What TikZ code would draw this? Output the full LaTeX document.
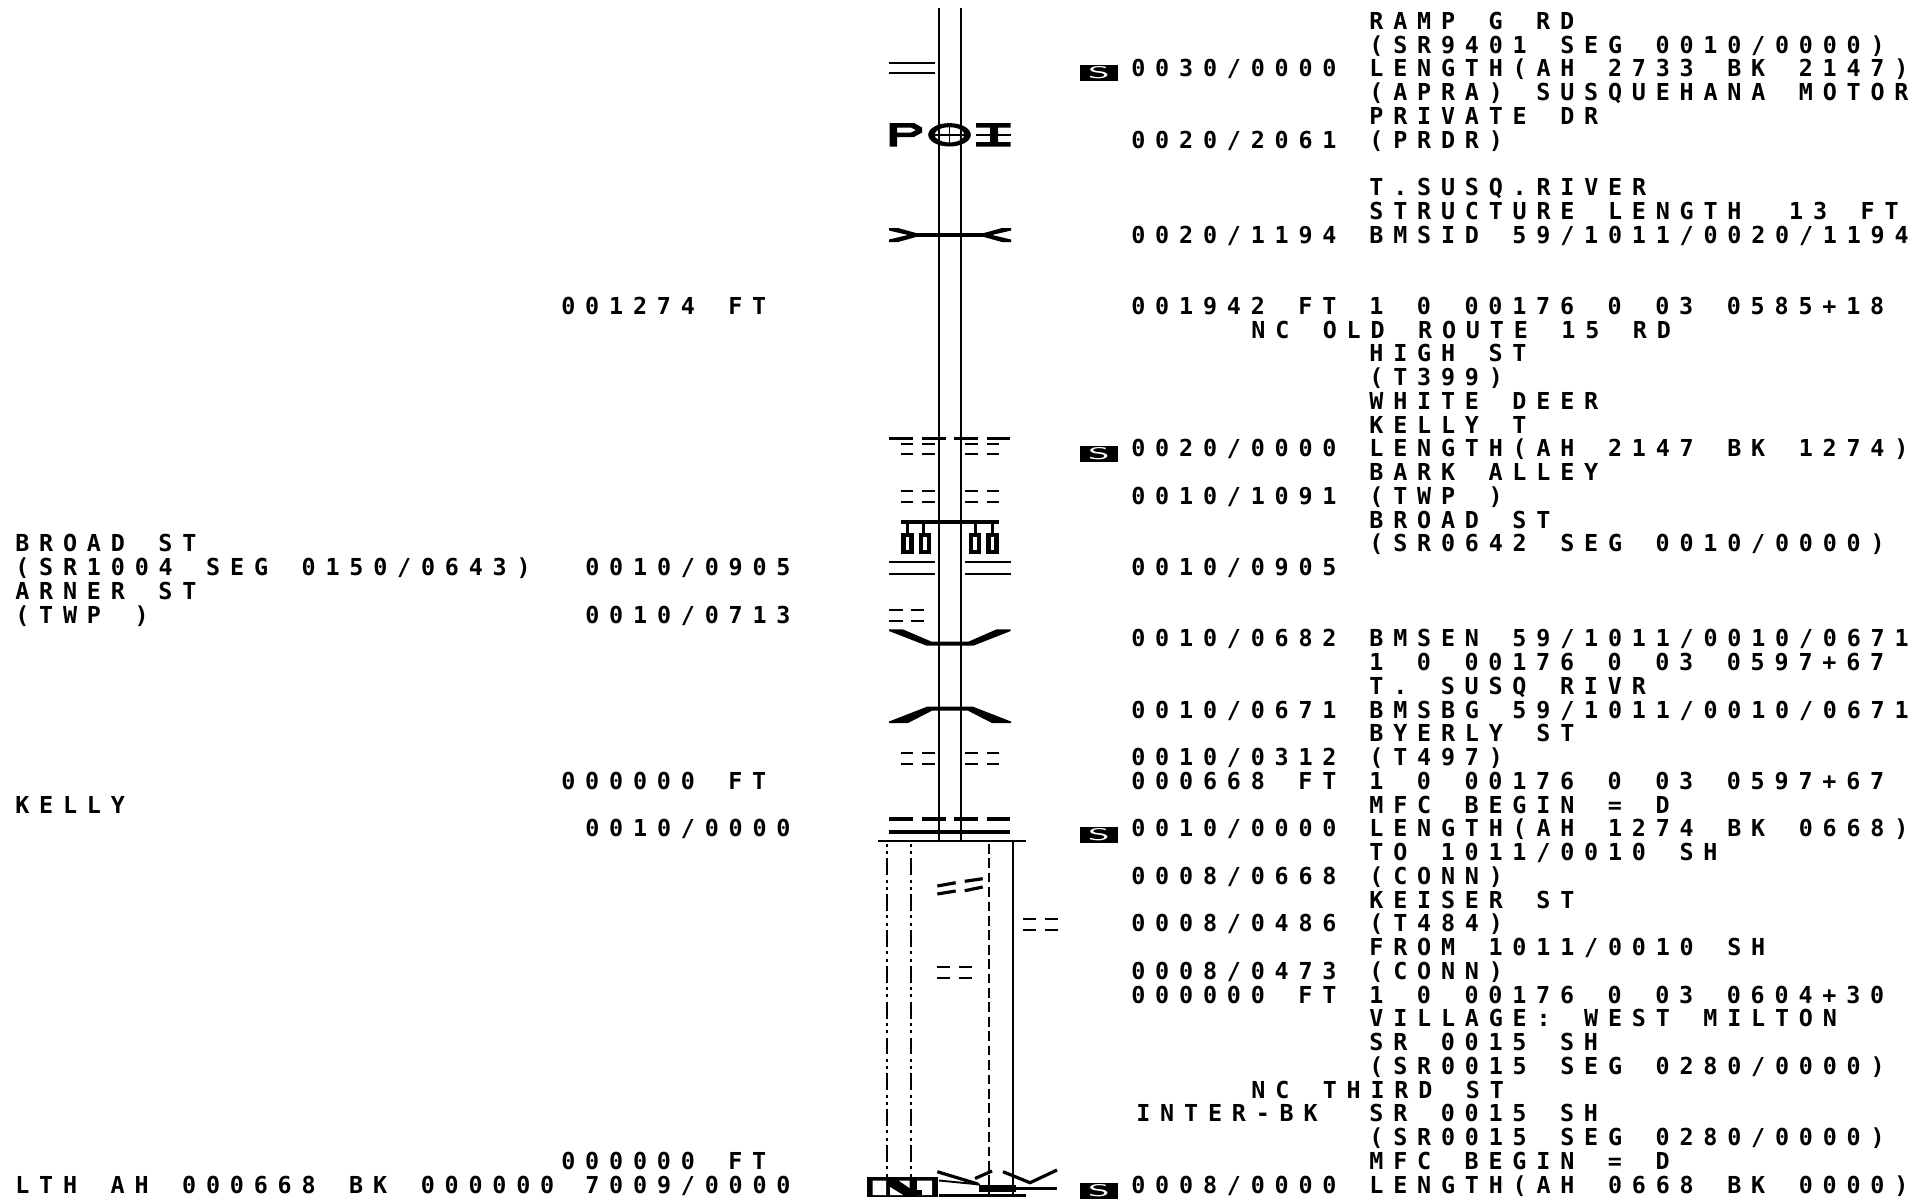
\documentclass[tikz,border=0pt]{standalone}
\usepackage{fontspec}
\usepackage{tikz}
\setmonofont{DejaVu Sans Mono}[LetterSpace=42,WordSpace=1.405]
\usetikzlibrary{arrows.meta,calc}
\tikzset{
  rowtext/.style={anchor=base west,inner sep=0pt,font=\fontsize{13.3}{14}\selectfont\ttfamily\bfseries,execute at begin node=\frenchspacing},
  thinbar/.style={line width=1.9*0.567pt},
  thickbar/.style={line width=3.2*0.567pt},
  roadline/.style={line width=2.1*0.567pt},
  sbox/.style={fill=black,text=white,inner sep=0pt,minimum width=37.7*0.567pt,minimum height=16*0.567pt,font=\fontsize{8}{8}\selectfont\sffamily},
  twodot/.style={line width=2.2*0.567pt,dash pattern=on 9.6pt off 2.5pt on 1.7pt off 2.5pt on 1.7pt off 2.4pt,dash phase=11.7pt},
  longdash/.style={line width=2.1*0.567pt,dash pattern=on 5.5pt off 2.7pt}
}
\begin{document}
\begin{tikzpicture}[x=0.02cm,y=-0.02cm]
  \useasboundingbox (0,0) rectangle (1923,1201);
  % text rows
  \foreach \k/\txt in {0/{RAMP G RD},1/{(SR9401 SEG 0010/0000)},2/{LENGTH(AH 2733 BK 2147)},3/{(APRA) SUSQUEHANA MOTOR},4/{PRIVATE DR},5/{(PRDR)},
    7/{T.SUSQ.RIVER},8/{STRUCTURE LENGTH\hspace{27.1pt}13 FT},9/{BMSID 59/1011/0020/1194},12/{1 0 00176 0 03 0585+18},14/{HIGH ST},15/{(T399)},16/{WHITE DEER},17/{KELLY T},
    18/{LENGTH(AH 2147 BK 1274)},19/{BARK ALLEY},20/{(TWP )},21/{BROAD ST},22/{(SR0642 SEG 0010/0000)},26/{BMSEN 59/1011/0010/0671},27/{1 0 00176 0 03 0597+67},
    28/{T. SUSQ RIVR},29/{BMSBG 59/1011/0010/0671},30/{BYERLY ST},31/{(T497)},32/{1 0 00176 0 03 0597+67},33/{MFC BEGIN = D},34/{LENGTH(AH 1274 BK 0668)},
    35/{TO 1011/0010 SH},36/{(CONN)},37/{KEISER ST},38/{(T484)},39/{FROM 1011/0010 SH},40/{(CONN)},41/{1 0 00176 0 03 0604+30},42/{VILLAGE: WEST MILTON},
    43/{SR 0015 SH},44/{(SR0015 SEG 0280/0000)},46/{SR 0015 SH},47/{(SR0015 SEG 0280/0000)},48/{MFC BEGIN = D},49/{LENGTH(AH 0668 BK 0000)}}
    \node[rowtext] (rt\k) at (1369,{29.3+23.75*\k}) {\txt};
  \foreach \k/\txt in {2/{0030/0000},5/{0020/2061},9/{0020/1194},12/{001942 FT},18/{0020/0000},20/{0010/1091},23/{0010/0905},26/{0010/0682},29/{0010/0671},
    31/{0010/0312},32/{000668 FT},34/{0010/0000},36/{0008/0668},38/{0008/0486},40/{0008/0473},41/{000000 FT},49/{0008/0000}}
    \node[rowtext] (md\k) at (1131,{29.3+23.75*\k}) {\txt};
  \foreach \k/\x/\txt in {12/561/{001274 FT},23/585/{0010/0905},25/585/{0010/0713},32/561/{000000 FT},34/585/{0010/0000},48/561/{000000 FT},49/585/{7009/0000}}
    \node[rowtext] (lf\k) at (\x,{29.3+23.75*\k}) {\txt};
  \foreach \k/\txt in {22/{BROAD ST},23/{(SR1004 SEG 0150/0643)},24/{ARNER ST},25/{(TWP )},33/{KELLY},49/{LTH AH 000668 BK 000000}}
    \node[rowtext] (ln\k) at (15,{29.3+23.75*\k}) {\txt};
  \node[rowtext] (nc13) at (1251,{29.3+23.75*13}) {NC OLD ROUTE 15 RD};
  \node[rowtext] (nc45) at (1251,{29.3+23.75*45}) {NC THIRD ST};
  \node[rowtext] (ib46) at (1136,{29.3+23.75*46}) {INTER-BK};
  % segment boxes
  \foreach \y/\n in {73/a,454/b,835/c,1191/d}
    \node[sbox] (seg\n) at (1099,\y) {\scalebox{2.6}[1.2]{S}};
  % road
  \draw[roadline] (938.7,8) -- (938.7,842);
  \draw[roadline] (961.3,8) -- (961.3,842);
  \draw[thinbar] (889,62.7) -- (934.7,62.7) (889,73.3) -- (934.7,73.3);
  % POI
  \fill[even odd rule] (889.5,123) -- (914,123) -- (922,127.5) -- (922,132.5) -- (914,137) -- (897,137) -- (897,146.5) -- (889.5,146.5) -- cycle
    (897,127.5) -- (911,127.5) -- (915,129.5) -- (915,130.5) -- (911,132.5) -- (897,132.5) -- cycle;
  \fill[even odd rule] (949.5,134.8) ellipse (21.3 and 11.7) (949.5,134.8) ellipse (15 and 7.6);
  \draw[thinbar] (949.5,123) -- (949.5,146) (930,134.8) -- (969,134.8);
  \fill (976,123) rectangle (1010.7,127.5) (976,142) rectangle (1010.7,146.5) (990,123) rectangle (998,146.5);
  \draw[thinbar] (976,134.8) -- (1010.7,134.8);
  % bridge end at 0020/1194
  \draw[line width=3.4*0.567pt] (915,235) -- (985,235);
  \fill (889,228) -- (898,228) -- (916,233) -- (916,237) -- (898,242) -- (889,242) -- (889,239.5) -- (908,235) -- (889,230.5) -- cycle;
  \fill (1011,228) -- (1002,228) -- (984,233) -- (984,237) -- (1002,242) -- (1011,242) -- (1011,239.5) -- (992,235) -- (1011,230.5) -- cycle;
  % dash rows
  \foreach \y in {444,454.3,490.7,502,752.7,763.7}
    \draw[thinbar] (900.7,\y) -- (912.7,\y) (922,\y) -- (934.7,\y) (965.3,\y) -- (977.7,\y) (986.7,\y) -- (999.3,\y);
  \foreach \y in {438.7,819}
    \draw[thickbar] (889,\y) -- (912.7,\y) (922,\y) -- (945.7,\y) (954,\y) -- (977.7,\y) (986.7,\y) -- (1010,\y);
  \foreach \y in {610.3,621}
    \draw[thinbar] (889,\y) -- (902.7,\y) (911,\y) -- (924.3,\y);
  \foreach \y in {967,977.7}
    \draw[thinbar] (937.3,\y) -- (950,\y) (959,\y) -- (971.7,\y);
  \foreach \y in {919.3,930}
    \draw[thinbar] (1023.3,\y) -- (1036,\y) (1045.3,\y) -- (1058,\y);
  % railroad gate
  \draw[line width=4*0.567pt] (901.3,521.7) -- (998.7,521.7);
  \foreach \x in {901.3,919,968.7,986.3}
    \draw[line width=4.4*0.567pt] (\x+2.2,534.9) rectangle (\x+10.1,551.8);
  \foreach \x in {907.7,923.7,975,992.3}
    \draw[line width=3*0.567pt] (\x,521) -- (\x,533);
  \draw[thinbar] (889,562.3) -- (934.7,562.3) (889,573.7) -- (934.7,573.7) (965.3,562.3) -- (1010.7,562.3) (965.3,573.7) -- (1010.7,573.7);
  % bridge pair
  \fill (889,629.3) -- (902.7,629.3) -- (931.7,641.7) -- (968.3,641.7) -- (996.7,629.3) -- (1010.7,629.3) -- (1010.7,631) -- (973.3,645.7) -- (926.7,645.7) -- (889,631) -- cycle;
  \fill (889,723) -- (908,723) -- (932,710.7) -- (968,710.7) -- (992,723) -- (1011,723) -- (1011,721.5) -- (973,706.7) -- (927,706.7) -- (889,721.5) -- cycle;
  % intersection
  \draw[line width=3.8*0.567pt] (889,831.7) -- (1010,831.7);
  \draw[roadline] (878,841.3) -- (1025.7,841.3);
  \draw[twodot] (887.3,843) -- (887.3,1178);
  \draw[twodot] (911.3,843) -- (911.3,1178);
  \draw[longdash] (989.3,844) -- (989.3,1196);
  \draw[roadline] (1012.7,842) -- (1012.7,1196);
  \draw[thickbar] (937.3,886) -- (955.7,882.7) (964.7,881.3) -- (982.7,878.7);
  \draw[thickbar] (937.3,894) -- (955.7,891) (964.7,890.7) -- (982.7,887);
  % end block
  \fill (866.7,1177.3) rectangle (938.3,1196.5);
  \fill[white] (872.7,1180.7) rectangle (886,1195) (899,1180.7) -- (909.5,1180.7) -- (909.5,1188) -- cycle;
  \fill[white] (890,1187) -- (903,1195) -- (890,1195) -- cycle (917,1180.7) rectangle (932,1195);
  \fill (917,1190) rectangle (922,1195);
  \draw[thickbar] (937.3,1171.7) -- (978,1184);
  \draw[thinbar] (939,1180.5) -- (980,1184.5);
  \draw[thickbar] (975,1178.5) -- (992,1171);
  \draw[thickbar] (1003,1171.7) -- (1030,1182.7) -- (1057,1170);
  \draw[line width=3*0.567pt] (979,1188.3) -- (1057,1188.3);
  \fill (979,1185) rectangle (1016,1192);
  \draw[line width=2.4*0.567pt] (939,1195.5) -- (1026,1195.5);
\end{tikzpicture}
\end{document}
